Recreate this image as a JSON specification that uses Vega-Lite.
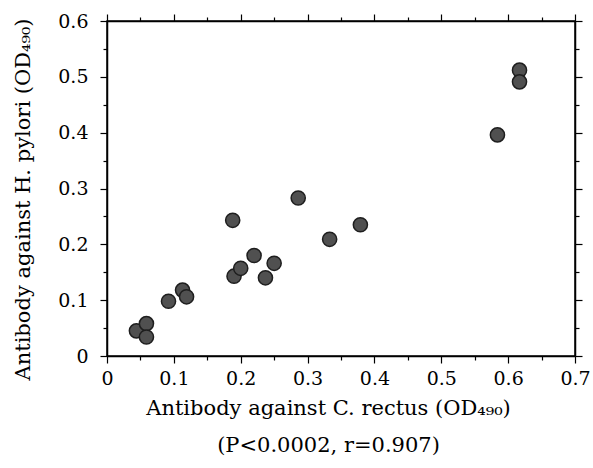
{
  "$schema": "https://vega.github.io/schema/vega-lite/v6.json",
  "autosize": "none",
  "padding": {"left": 107, "top": 21, "right": 18, "bottom": 112},
  "width": 468,
  "height": 335,
  "background": "white",
  "config": {
    "font": "DejaVu Serif",
    "view": {"stroke": "black", "strokeWidth": 1.5},
    "axis": {
      "grid": false,
      "domainColor": "black",
      "domainWidth": 1.5,
      "tickColor": "black",
      "tickWidth": 1.2,
      "labelFont": "DejaVu Serif",
      "labelFontSize": 19,
      "labelColor": "black",
      "titleFont": "DejaVu Serif",
      "titleFontSize": 21,
      "titleFontWeight": "normal",
      "titleColor": "black"
    }
  },
  "data": {
    "values": [
      {"x": 0.044, "y": 0.045},
      {"x": 0.059, "y": 0.058},
      {"x": 0.059, "y": 0.034},
      {"x": 0.092, "y": 0.098},
      {"x": 0.113, "y": 0.118},
      {"x": 0.119, "y": 0.106},
      {"x": 0.190, "y": 0.143},
      {"x": 0.200, "y": 0.157},
      {"x": 0.188, "y": 0.243},
      {"x": 0.220, "y": 0.180},
      {"x": 0.237, "y": 0.140},
      {"x": 0.250, "y": 0.166},
      {"x": 0.286, "y": 0.283},
      {"x": 0.333, "y": 0.209},
      {"x": 0.379, "y": 0.235},
      {"x": 0.617, "y": 0.512},
      {"x": 0.617, "y": 0.491},
      {"x": 0.584, "y": 0.396}
    ]
  },
  "layer": [
    {
      "mark": {"type": "point", "filled": true, "shape": "circle", "size": 200, "color": "#505050", "stroke": "#1e1e1e", "strokeWidth": 1.5, "opacity": 1},
      "encoding": {
        "x": {
          "field": "x", "type": "quantitative",
          "scale": {"domain": [0, 0.7], "nice": false, "zero": true},
          "axis": {
            "orient": "bottom",
            "values": [0, 0.05, 0.1, 0.15, 0.2, 0.25, 0.3, 0.35, 0.4, 0.45, 0.5, 0.55, 0.6, 0.65, 0.7],
            "format": ".2~f",
            "labelExpr": "round(datum.value*20) % 2 === 0 ? datum.label : ''",
            "tickSize": {"condition": {"test": "round(datum.value*20) % 2 === 0", "value": 7}, "value": 4},
            "labelPadding": 6,
            "labelFlush": false,
            "title": ["Antibody against C. rectus (OD₄₉₀)", "(P<0.0002, r=0.907)"],
            "titleLineHeight": 37,
            "titlePadding": 9,
            "titleX": 221
          }
        },
        "y": {
          "field": "y", "type": "quantitative",
          "scale": {"domain": [0, 0.6], "nice": false, "zero": true},
          "axis": {
            "orient": "left",
            "values": [0, 0.05, 0.1, 0.15, 0.2, 0.25, 0.3, 0.35, 0.4, 0.45, 0.5, 0.55, 0.6],
            "format": ".2~f",
            "labelExpr": "round(datum.value*20) % 2 === 0 ? datum.label : ''",
            "tickSize": {"condition": {"test": "round(datum.value*20) % 2 === 0", "value": 7}, "value": 4},
            "labelPadding": 12,
            "labelFlush": false,
            "title": "Antibody against H. pylori (OD₄₉₀)",
            "titlePadding": 24,
            "titleY": 178
          }
        }
      }
    },
    {
      "mark": {"type": "point", "opacity": 0},
      "encoding": {
        "x": {
          "field": "x", "type": "quantitative",
          "axis": {
            "orient": "top",
            "values": [0, 0.05, 0.1, 0.15, 0.2, 0.25, 0.3, 0.35, 0.4, 0.45, 0.5, 0.55, 0.6, 0.65, 0.7],
            "labels": false,
            "title": null,
            "tickSize": {"condition": {"test": "round(datum.value*20) % 2 === 0", "value": 7}, "value": 4}
          }
        },
        "y": {
          "field": "y", "type": "quantitative",
          "axis": {
            "orient": "right",
            "values": [0, 0.05, 0.1, 0.15, 0.2, 0.25, 0.3, 0.35, 0.4, 0.45, 0.5, 0.55, 0.6],
            "labels": false,
            "title": null,
            "tickSize": {"condition": {"test": "round(datum.value*20) % 2 === 0", "value": 7}, "value": 4}
          }
        }
      }
    }
  ],
  "resolve": {"axis": {"x": "independent", "y": "independent"}}
}
